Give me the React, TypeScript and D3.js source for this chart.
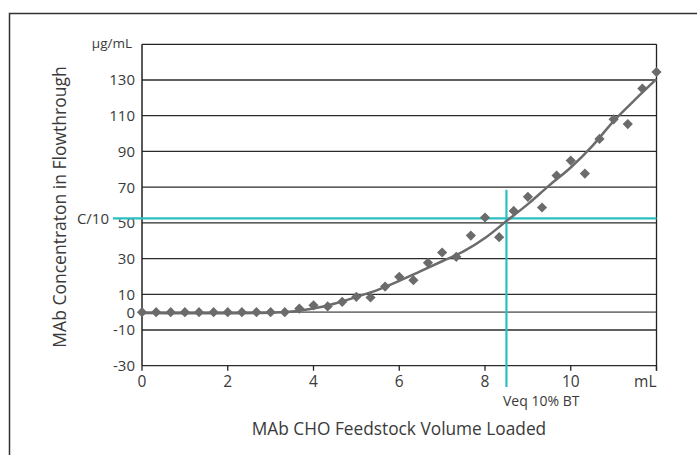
import React from 'react';
import * as d3 from 'd3';

// measured points, volume steps of 1/3 mL
const volumes = [
  0, 0.33, 0.67, 1, 1.33, 1.67, 2, 2.33, 2.67, 3, 3.33, 3.67, 4, 4.33, 4.67, 5, 5.33, 5.67,
  6, 6.33, 6.67, 7, 7.33, 7.67, 8, 8.33, 8.67, 9, 9.33, 9.67, 10, 10.33, 10.67, 11, 11.33, 11.67, 12,
];
const concentrations = [
  0, 0, 0, 0, 0, 0, 0, 0, 0, 0, 0, 2, 3.8, 3.2, 5.8, 8.6, 8.2, 14.3,
  19.8, 17.9, 27.6, 33.4, 31, 42.9, 53, 42, 56.7, 64.6, 58.6, 76.5, 84.9, 77.6, 97, 108, 105.3, 125.2, 134.5,
];

// fitted trend line
const fitVolumes = [0, 1, 2, 3, 3.5, 4, 4.5, 5, 5.5, 6, 6.5, 7, 7.5, 8, 8.5, 9, 9.5, 10, 10.5, 11, 11.5, 12];
const fitValues = [-0.5, -0.6, -0.6, -0.3, 0.4, 2, 4.8, 8.5, 12.5, 17.5, 23, 28.5, 34, 41.5, 51, 60.5, 71, 81, 93, 107, 119, 130.5];

const yTicks = [-30, -10, 0, 10, 30, 50, 70, 90, 110, 130];
const xTicks = [0, 2, 4, 6, 8, 10];
const c10 = 52.5;
const veq = 8.5;
const veqTop = 68.5;

const font = '"Open Sans", "Noto Sans", sans-serif';
const cyan = '#2bbfc2';
const grey = '#6b6b6b';
const ink = '#3a3a3a';

export default function App() {
  const x = d3.scaleLinear().domain([0, 12]).range([142, 656.5]);
  const y = d3.scaleLinear().domain([-30, 150]).range([365.7, 44.3]);

  const fitLine = d3
    .line<number>()
    .x((_, i) => x(fitVolumes[i]))
    .y((d) => y(d))
    .curve(d3.curveMonotoneX)(fitValues);

  // square turned 45deg, ~10px across
  const diamond = d3.symbol(d3.symbolSquare, 52)();

  return (
    <svg width={697} height={455} style={{ position: 'absolute', left: 0, top: 0, background: '#fff' }}>
      <rect x={9.5} y={13.5} width={720} height={480} fill="none" stroke="#333" strokeWidth={1.5} />

      {/* grid */}
      {yTicks.map((t) => (
        <line
          key={t}
          x1={x(0)}
          x2={x(12)}
          y1={y(t)}
          y2={y(t)}
          stroke={t === 0 ? '#7a7a7a' : '#2b2b2b'}
          strokeWidth={t === 0 ? 1.8 : 1.3}
        />
      ))}
      <line x1={x(0)} x2={x(12)} y1={y(150)} y2={y(150)} stroke="#222" strokeWidth={1.3} />
      <line x1={x(0)} x2={x(0)} y1={y(150)} y2={y(-30)} stroke="#222" strokeWidth={1.5} />
      <line x1={x(12)} x2={x(12)} y1={y(150)} y2={y(-30) + 5} stroke="#222" strokeWidth={1.3} />
      {[...xTicks, 12].map((t) => (
        <line key={t} x1={x(t)} x2={x(t)} y1={y(-30)} y2={y(-30) + 5} stroke="#222" strokeWidth={1.3} />
      ))}

      {/* y labels */}
      <g fontFamily={font} fontSize={15} fill={ink} textAnchor="end">
        {yTicks.map((t) => (
          <text key={t} x={135} y={y(t)} dy="0.36em">
            {t}
          </text>
        ))}
        <text x={132} y={y(150)} dy="0.3em" fontSize={13.5}>
          µg/mL
        </text>
        <text x={109} y={y(c10)} dy="0.36em" fontSize={15}>
          C/10
        </text>
      </g>

      {/* x labels */}
      <g fontFamily={font} fontSize={15.5} fill={ink} textAnchor="middle">
        {xTicks.map((t) => (
          <text key={t} x={x(t)} y={387}>
            {t}
          </text>
        ))}
        <text x={x(12)} y={387} textAnchor="end">
          mL
        </text>
        <text x={503} y={406} textAnchor="start" fontSize={14}>
          Veq 10% BT
        </text>
      </g>

      {/* cyan markers */}
      <line x1={113} x2={x(12)} y1={y(c10)} y2={y(c10)} stroke={cyan} strokeWidth={2.2} />
      <line x1={x(veq)} x2={x(veq)} y1={y(veqTop)} y2={387} stroke={cyan} strokeWidth={2.2} />

      {/* trend + points */}
      <path d={fitLine ?? ''} fill="none" stroke={grey} strokeWidth={2.5} />
      {volumes.map((v, i) => (
        <path
          key={i}
          d={diamond ?? ''}
          transform={`translate(${x(v)},${y(concentrations[i])}) rotate(45)`}
          fill={grey}
        />
      ))}

      {/* axis titles */}
      <text x={399} y={435} fontFamily={font} fontSize={17.3} fill={ink} textAnchor="middle">
        MAb CHO Feedstock Volume Loaded
      </text>
      <text
        transform="translate(66,207) rotate(-90)"
        fontFamily={font}
        fontSize={17.5}
        fill={ink}
        textAnchor="middle"
      >
        MAb Concentraton in Flowthrough
      </text>
    </svg>
  );
}
